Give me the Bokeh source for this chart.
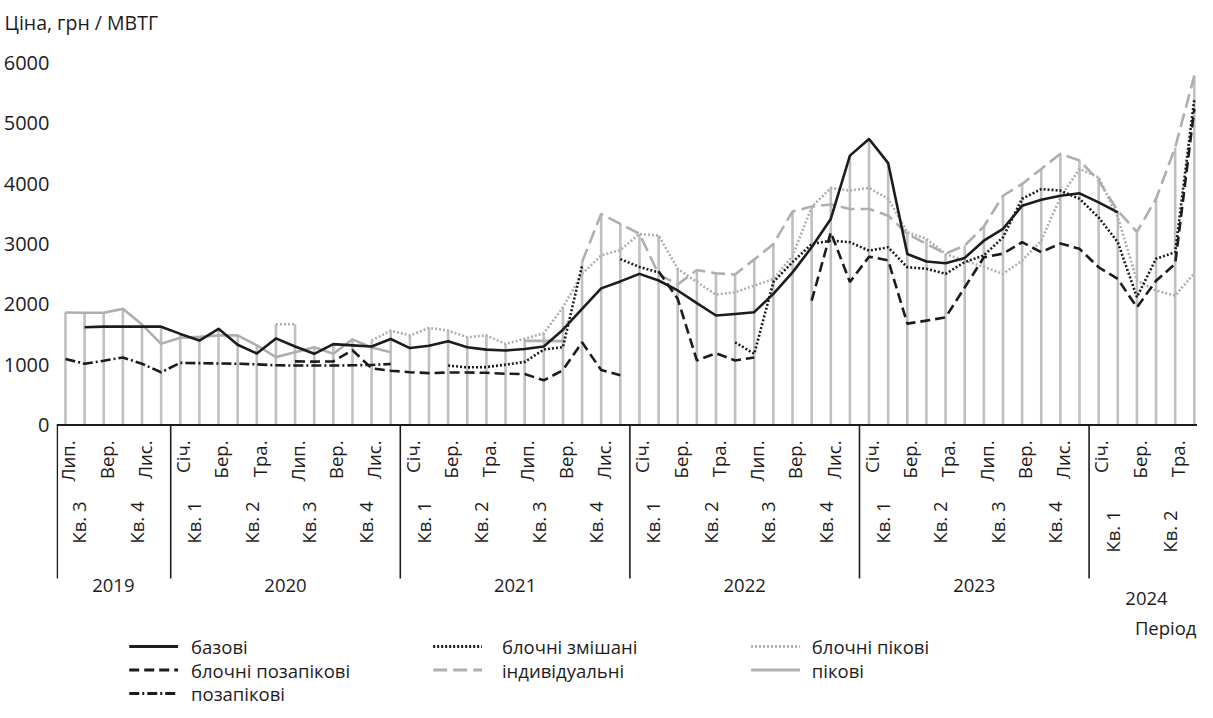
import numpy as np
from bokeh.plotting import figure
from bokeh.models import Range1d, FixedTicker, Span
from bokeh.core.properties import value
from bokeh.embed import file_html
from bokeh.resources import INLINE

nan = float("nan")

# ---------------- data (monthly, Jul 2019 .. Jun 2024) ----------------
years = ["2019", "2020", "2021", "2022", "2023", "2024"]
year_months = [6, 12, 12, 12, 12, 6]
quarter_labels = ["Кв. 3", "Кв. 4",
                  "Кв. 1", "Кв. 2", "Кв. 3", "Кв. 4",
                  "Кв. 1", "Кв. 2", "Кв. 3", "Кв. 4",
                  "Кв. 1", "Кв. 2", "Кв. 3", "Кв. 4",
                  "Кв. 1", "Кв. 2", "Кв. 3", "Кв. 4",
                  "Кв. 1", "Кв. 2"]
month_names = ["Січ.", "Лют.", "Бер.", "Кві.", "Тра.", "Чер.",
               "Лип.", "Сер.", "Вер.", "Жов.", "Лис.", "Гру."]
first_month_of_year = 6  # July 2019
y_ticks = [0, 1000, 2000, 3000, 4000, 5000, 6000]

bazovi = [nan, 1620, 1630, 1630, 1630, 1630,
          1510, 1400, 1595, 1330, 1185, 1435, 1300, 1180, 1340, 1320, 1300, 1425,
          1275, 1315, 1390, 1290, 1250, 1235, 1260, 1300, 1580, 1925, 2265, 2380,
          2505, 2395, 2230, 2020, 1815, 1840, 1870, 2175, 2530, 2945, 3415, 4465,
          4740, 4340, 2835, 2710, 2680, 2770, 3055, 3250, 3635, 3735, 3800, 3840,
          3690, 3525, nan, nan, nan, nan]

blochni_zmishani = [nan, nan, nan, nan, nan, nan,
                    nan, nan, nan, nan, nan, nan, nan, nan, nan, nan, nan, nan,
                    nan, nan, 985, 955, 960, 1000, 1045, 1250, 1290, 2640, nan, 2750,
                    2620, 2530, nan, nan, nan, 1370, 1180, 2370, 2700, 3000, 3055, 3030,
                    2890, 2945, 2615, 2590, 2505, 2700, 2810, 3110, 3750, 3910, 3885, 3750,
                    3440, 3030, 2120, 2755, 2865, 5400]

blochni_pikovi = [nan, nan, nan, nan, nan, nan,
                  nan, nan, nan, nan, nan, 1670, 1670, nan, nan, nan, 1400, 1565,
                  1485, 1610, 1565, 1455, 1485, 1345, 1430, 1520, 1950, 2505, 2810, 2900,
                  3165, 3140, 2590, 2370, 2160, 2200, 2310, 2420, 2800, 3610, 3930, 3885,
                  3930, 3750, 3195, 3085, 2835, 2725, 2620, 2505, 2725, 3055, 3775, 4245,
                  4105, 3445, 2395, 2230, 2145, 2515]

blochni_pozapikovi = [nan, nan, nan, nan, nan, nan,
                      nan, nan, nan, nan, nan, nan, 1055, 1050, 1055, 1240, 940, 900,
                      875, 860, 870, 870, 865, 850, 845, 740, 910, 1370, 910, 825,
                      nan, 2550, 2090, 1070, 1190, 1070, 1120, nan, nan, 2060, 3195, 2370,
                      2790, 2730, 1680, 1730, 1785, 2280, 2780, 2840, 3030, 2865, 3010, 2920,
                      2615, 2420, 1950, 2390, 2670, 5240]

individualni = [nan, nan, nan, nan, nan, nan,
                nan, nan, nan, nan, nan, nan, nan, nan, nan, nan, nan, nan,
                nan, nan, nan, nan, nan, nan, nan, nan, nan, 2700, 3500, 3335,
                3170, 2500, 2330, 2570, 2515, 2495, 2745, 3000, 3540, 3620, 3655, 3580,
                3580, 3470, 3170, 3000, 2840, 2975, 3290, 3800, 3995, 4245, 4495, 4385,
                4050, 3550, 3200, 3750, 4600, 5790]

pikovi = [1865, 1860, 1860, 1925, 1665, 1345,
          1445, 1460, 1485, 1485, 1320, 1125, 1205, 1290, 1180, 1420, 1285, 1205,
          nan, nan, nan, nan, nan, nan, 1395, 1395, 1390, nan, nan, nan,
          nan, nan, nan, nan, nan, nan, nan, nan, nan, nan, nan, nan,
          nan, nan, nan, nan, nan, nan, nan, nan, nan, nan, nan, nan,
          nan, nan, nan, nan, nan, nan]

pozapikovi = [1095, 1015, 1065, 1120, 1015, 875,
              1030, 1025, 1020, 1015, 1005, 990, 985, 985, 985, 990, 995, 1010,
              nan, nan, nan, nan, nan, nan, nan, nan, nan, nan, nan, nan,
              nan, nan, nan, nan, nan, nan, nan, nan, nan, nan, nan, nan,
              nan, nan, nan, nan, nan, nan, nan, nan, nan, nan, nan, nan,
              nan, nan, nan, nan, nan, nan]

series_names = ["базові", "блочні змішані", "блочні пікові",
                "блочні позапікові", "індивідуальні", "пікові", "позапікові"]
series_values = [bazovi, blochni_zmishani, blochni_pikovi,
                 blochni_pozapikovi, individualni, pikovi, pozapikovi]

# ---------------- styling ----------------
BLACK = "#1F1B1C"
GRAY = "#ADAFB2"
DROP = "#BEC0C2"
FONT = value("Open Sans")
styles = {
    "базові": dict(line_color=BLACK, line_width=2.6, line_join="round"),
    "блочні змішані": dict(line_color=BLACK, line_width=2.6, line_dash="2 2"),
    "блочні пікові": dict(line_color=GRAY, line_width=2.6, line_dash="2 2"),
    "блочні позапікові": dict(line_color=BLACK, line_width=2.6, line_dash="10 5"),
    "індивідуальні": dict(line_color=GRAY, line_width=2.6, line_dash="14 6"),
    "пікові": dict(line_color=GRAY, line_width=2.6, line_join="round"),
    "позапікові": dict(line_color=BLACK, line_width=2.6, line_dash="10 3 2 3"),
}
draw_order = ["пікові", "індивідуальні", "блочні пікові", "позапікові",
              "блочні позапікові", "блочні змішані", "базові"]

# ---------------- layout helpers (reference pixel -> data) ----------------
W, H = 1197, 708
MX, MY = 8, 0                      # page offset of the canvas in the shot
X0_REF, DX_REF = 69.0, 19.2        # month 0 position, px per month
Y0_REF, DY_REF = 424.5, 0.06033    # value 0 position, px per unit
FRAME_LEFT_REF = 60
FRAME_TOP = 40


def rx(px):
    return (px - X0_REF) / DX_REF


def ry(py):
    return (Y0_REF - py) / DY_REF


p = figure(width=W, height=H, output_backend="svg", toolbar_location=None,
           x_range=Range1d(rx(FRAME_LEFT_REF), rx(MX + W)),
           y_range=Range1d(ry(MY + H), ry(MY + FRAME_TOP)),
           x_axis_location=None,
           min_border_left=FRAME_LEFT_REF - MX, min_border_right=0,
           min_border_top=FRAME_TOP, min_border_bottom=0)
p.outline_line_color = None
p.xgrid.visible = False
p.ygrid.visible = False
p.background_fill_color = "white"

p.title.text = "Ціна, грн / МВТГ"
p.title.align = "left"
p.title.offset = -(FRAME_LEFT_REF - MX)
p.title.text_font = "Open Sans"
p.title.text_font_size = "19.5px"
p.title.text_font_style = "normal"
p.title.text_color = BLACK

ax = p.yaxis[0]
ax.ticker = FixedTicker(ticks=y_ticks)
ax.axis_line_color = None
ax.major_tick_line_color = None
ax.major_tick_out = 0
ax.major_tick_in = 0
ax.minor_tick_line_color = None
ax.minor_tick_out = 0
ax.major_label_standoff = 7
ax.major_label_text_font = "Open Sans"
ax.major_label_text_font_size = "20px"
ax.major_label_text_color = BLACK

months = np.arange(len(bazovi))
stack = np.array(series_values, dtype=float)
tops = np.nanmax(stack, axis=0)

# drop lines (highest value of each month down to the axis)
p.segment(x0=months, y0=np.zeros(len(months)), x1=months, y1=tops,
          line_color=DROP, line_width=2.6)

for name in draw_order:
    vals = series_values[series_names.index(name)]
    p.line(x=months, y=vals, **styles[name])

# category axis line
p.add_layout(Span(location=0, dimension="width", line_color=BLACK, line_width=2))

# year separators
bounds = np.cumsum([0] + year_months) - 0.5
sep_x = list(bounds)
sep_x[0] = rx(FRAME_LEFT_REF) + 0.04
p.segment(x0=sep_x, y0=[0] * len(sep_x), x1=sep_x, y1=[ry(578)] * len(sep_x),
          line_color=BLACK, line_width=1.6)

TXT = dict(text_font=FONT, text_font_size=value("18.5px"), text_color=BLACK)

# month labels (every other month)
m_idx = list(range(0, len(months), 2))
m_lab = [month_names[(first_month_of_year + i) % 12] for i in m_idx]
p.text(x=[i + 0.12 for i in m_idx], y=[ry(440)] * len(m_idx), text=m_lab,
       angle=np.pi / 2, text_align="right", text_baseline="middle", **TXT)

# quarter labels
q_x = [3 * k + 1 - 0.3 for k in range(len(quarter_labels))]
q_y = [ry(522) if k < 18 else ry(531) for k in range(len(quarter_labels))]
p.text(x=q_x, y=q_y, text=quarter_labels, angle=np.pi / 2,
       text_align="center", text_baseline="middle", **TXT)

# year labels
y_x = [(bounds[i] + bounds[i + 1]) / 2 for i in range(len(years))]
y_y = [ry(585)] * (len(years) - 1) + [ry(598)]
p.text(x=y_x, y=y_y, text=years, text_align="center", text_baseline="middle", **TXT)

p.text(x=[rx(1204)], y=[ry(627)], text=["Період"], text_align="right",
       text_baseline="middle", **TXT)

# legend (3 columns, row-major)
col_line = [(133, 182), (438, 487), (757, 806)]
col_text = [195, 507, 818]
row_y = [646, 669.5, 693]
for k, name in enumerate(series_names):
    r, c = divmod(k, 3)
    x1, x2 = col_line[c]
    st = dict(styles[name])
    st["line_width"] = 3
    p.line(x=[rx(x1), rx(x2)], y=[ry(row_y[r])] * 2, **st)
    p.text(x=[rx(col_text[c])], y=[ry(row_y[r])], text=[name],
           text_align="left", text_baseline="middle", **TXT)

open("out.html", "w").write(file_html(p, INLINE))
